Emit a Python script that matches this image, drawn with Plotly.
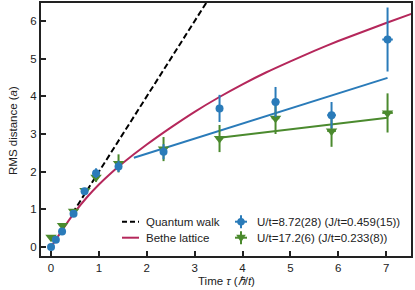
import plotly.graph_objects as go

# ---------------- data ----------------
t_blue = [0.0, 0.10, 0.23, 0.47, 0.70, 0.94, 1.41, 2.35, 3.52, 4.69, 5.86, 7.03]
r_blue = [0.00, 0.19, 0.41, 0.88, 1.48, 1.96, 2.14, 2.53, 3.68, 3.85, 3.50, 5.51]
err_blue = [0.02, 0.03, 0.03, 0.04, 0.06, 0.13, 0.15, 0.20, 0.36, 0.40, 0.35, 0.85]
terr_blue = [0, 0, 0, 0, 0, 0, 0, 0, 0.06, 0.08, 0.09, 0.11]

t_green = [0.0, 0.24, 0.47, 0.71, 0.94, 1.41, 2.35, 3.52, 4.69, 5.86, 7.03]
r_green = [0.26, 0.57, 0.95, 1.50, 1.85, 2.22, 2.60, 2.88, 3.42, 3.08, 3.56]
err_green = [0.03, 0.04, 0.05, 0.07, 0.12, 0.24, 0.32, 0.36, 0.42, 0.42, 0.52]
terr_green = [0, 0, 0, 0, 0, 0, 0, 0.06, 0.08, 0.09, 0.11]

t_fit_blue = [1.73, 7.03]
r_fit_blue = [2.37, 4.49]
t_fit_green = [3.52, 7.03]
r_fit_green = [2.90, 3.43]

t_qwalk = [0.45, 3.40]
r_qwalk = [0.90, 6.80]

t_bethe = [0.0, 0.25, 0.5, 0.75, 1.0, 1.25, 1.5, 2.0, 2.5, 3.0, 3.5, 4.0,
           4.5, 5.0, 5.5, 6.0, 6.5, 7.0, 7.55]
r_bethe = [0.0, 0.48, 0.93, 1.32, 1.66, 1.96, 2.23, 2.72, 3.17, 3.59, 3.97, 4.32,
           4.64, 4.93, 5.21, 5.47, 5.71, 5.95, 6.20]

x_ticks = [0, 1, 2, 3, 4, 5, 6, 7]
y_ticks = [0, 1, 2, 3, 4, 5, 6]

legend_labels = ["Quantum walk", "Bethe lattice",
                 "U/t=8.72(28) (J/t=0.459(15))", "U/t=17.2(6) (J/t=0.233(8))"]
x_title = "Time <i>τ</i> (<i>ℏ</i>/<i>t</i>)"
y_title = "RMS distance (<i>a</i>)"

# ---------------- style ----------------
BLUE = "#2a7bb9"
RED = "#b5275b"
GREEN = "#4b8a2e"
INK = "#222222"
FONT = "Liberation Sans, Arial, sans-serif"
FS = 11.5

fig = go.Figure()

fig.add_trace(go.Scatter(x=t_qwalk, y=r_qwalk, mode="lines",
                         line=dict(color="black", width=2, dash="6px,3px"),
                         showlegend=False, hoverinfo="skip"))
fig.add_trace(go.Scatter(x=t_bethe, y=r_bethe, mode="lines",
                         line=dict(color=RED, width=2, shape="spline", smoothing=0.5),
                         showlegend=False, hoverinfo="skip"))
fig.add_trace(go.Scatter(x=t_fit_blue, y=r_fit_blue, mode="lines",
                         line=dict(color=BLUE, width=2), showlegend=False))
fig.add_trace(go.Scatter(x=t_fit_green, y=r_fit_green, mode="lines",
                         line=dict(color=GREEN, width=2), showlegend=False))
fig.add_trace(go.Scatter(x=t_green, y=r_green, mode="markers",
                         marker=dict(symbol="triangle-down", size=10, color=GREEN),
                         error_y=dict(type="data", array=err_green, color=GREEN, thickness=2, width=0),
                         error_x=dict(type="data", array=terr_green, color=GREEN, thickness=2, width=0),
                         showlegend=False))
fig.add_trace(go.Scatter(x=t_blue, y=r_blue, mode="markers",
                         marker=dict(symbol="circle", size=8, color=BLUE),
                         error_y=dict(type="data", array=err_blue, color=BLUE, thickness=2, width=0),
                         error_x=dict(type="data", array=terr_blue, color=BLUE, thickness=2, width=0),
                         showlegend=False))

# ---------------- manual legend (paper coords) ----------------
L, R, T, B = 41, 411, 3, 256
def px(x):
    return (x - L) / (R - L)
def py(y):
    return (B - y) / (B - T)

shapes = []
annotations = []
row_y = [221.7, 237.7]
shapes.append(dict(type="line", xref="paper", yref="paper",
                   x0=px(122), x1=px(139), y0=py(row_y[0]), y1=py(row_y[0]),
                   line=dict(color="black", width=2, dash="5px,3px")))
shapes.append(dict(type="line", xref="paper", yref="paper",
                   x0=px(122), x1=px(139), y0=py(row_y[1]), y1=py(row_y[1]),
                   line=dict(color=RED, width=2)))
for cy, col in [(row_y[0], BLUE), (row_y[1], GREEN)]:
    cx = 241
    shapes.append(dict(type="line", xref="paper", yref="paper",
                       x0=px(cx - 6), x1=px(cx + 6), y0=py(cy), y1=py(cy),
                       line=dict(color=col, width=2)))
    shapes.append(dict(type="line", xref="paper", yref="paper",
                       x0=px(cx), x1=px(cx), y0=py(cy - 6.5), y1=py(cy + 6.5),
                       line=dict(color=col, width=2)))
cx, cy = 241, row_y[0]
shapes.append(dict(type="circle", xref="paper", yref="paper",
                   x0=px(cx - 3.8), x1=px(cx + 3.8), y0=py(cy + 3.8), y1=py(cy - 3.8),
                   fillcolor=BLUE, line=dict(color=BLUE, width=0)))
cx, cy = 241, row_y[1]
path = "M {:.5f},{:.5f} L {:.5f},{:.5f} L {:.5f},{:.5f} Z".format(
    px(cx - 4.8), py(cy - 3), px(cx + 4.8), py(cy - 3), px(cx), py(cy + 4.8))
shapes.append(dict(type="path", xref="paper", yref="paper", path=path,
                   fillcolor=GREEN, line=dict(color=GREEN, width=0)))

for i, (lx, ly) in enumerate([(144, row_y[0]), (144, row_y[1]), (255, row_y[0]), (255, row_y[1])]):
    annotations.append(dict(x=px(lx), y=py(ly), xref="paper", yref="paper",
                            text=legend_labels[i], showarrow=False,
                            xanchor="left", yanchor="middle",
                            font=dict(family=FONT, size=FS, color=INK)))

annotations.append(dict(x=px(226), y=py(281), xref="paper", yref="paper",
                        text=x_title, showarrow=False, xanchor="center", yanchor="middle",
                        font=dict(family=FONT, size=FS, color=INK)))
annotations.append(dict(x=px(13), y=py(131), xref="paper", yref="paper",
                        text=y_title, showarrow=False, xanchor="center", yanchor="middle",
                        textangle=-90, font=dict(family=FONT, size=FS, color=INK)))

fig.update_layout(
    width=415, height=290,
    margin=dict(l=L, r=415 - R, t=T, b=290 - B, autoexpand=False),
    paper_bgcolor="white", plot_bgcolor="white",
    font=dict(family=FONT, size=FS, color=INK),
    shapes=shapes, annotations=annotations,
    showlegend=False,
)
fig.update_xaxes(range=[-0.21, 7.52], tickvals=x_ticks, ticks="inside", ticklen=5,
                 tickwidth=1.5, tickcolor=INK, showline=True, linewidth=2, linecolor=INK,
                 mirror=True, showgrid=False, zeroline=False, automargin=False)
fig.update_yaxes(range=[-0.24, 6.48], tickvals=y_ticks, ticks="inside", ticklen=5,
                 tickwidth=1.5, tickcolor=INK, showline=True, linewidth=2, linecolor=INK,
                 mirror=True, showgrid=False, zeroline=False, automargin=False)

fig.write_html("out.html", config={"displayModeBar": False},
               post_script="document.body.style.margin='0px';document.body.style.overflow='hidden';")
